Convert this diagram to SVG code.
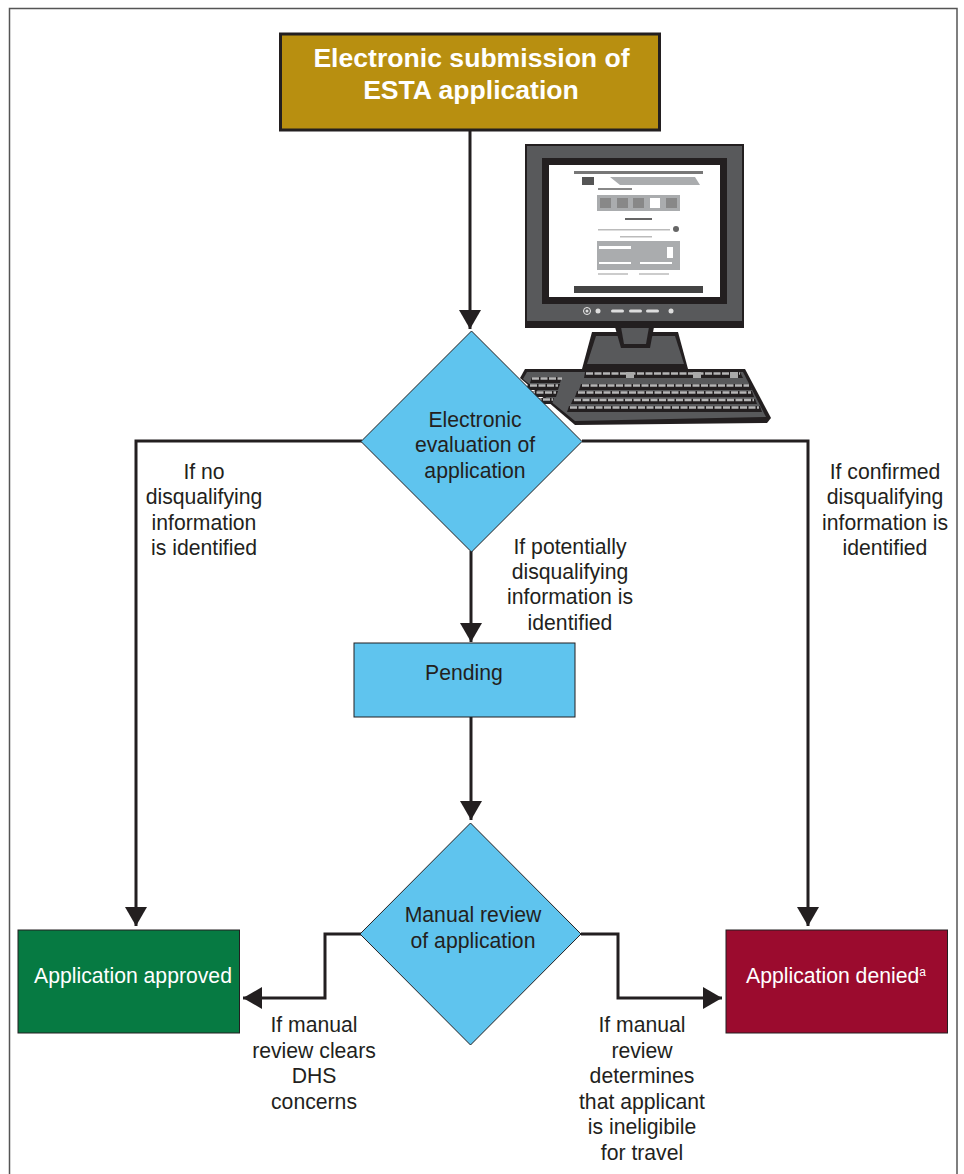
<svg xmlns="http://www.w3.org/2000/svg" width="964" height="1174" viewBox="0 0 964 1174">
<style>
text{font-family:"Liberation Sans",Arial,sans-serif;font-size:21.200px;fill:#231f20;text-anchor:middle}
.w{fill:#fff}
.t{font-size:26.600px;font-weight:bold;fill:#fff}
.l{fill:none;stroke:#231f20;stroke-width:3}
.b{fill:#5fc4ee;stroke:#231f20;stroke-width:1}
.k{fill:#231f20}
.g{fill:#58595b}
.m{fill:#aaacae}
.d{stroke:#b5b5b5;stroke-width:2.500;stroke-dasharray:7 1.500;fill:none}
</style>
<defs>
<marker id="a" markerUnits="userSpaceOnUse" markerWidth="20" markerHeight="22" refX="19" refY="11" orient="auto"><path d="M0 0L19 11L0 22Z" fill="#231f20"/></marker>
</defs>
<rect x="0" y="0" width="964" height="1174" fill="#fff"/>
<path d="M9.500 1174V8.500H957V1174" fill="none" stroke="#555" stroke-width="1.500"/>
<g id="computer">
<path class="k" d="M520 378L525 369H745L771 418L767 423L575 425Z"/>
<path class="g" d="M523 379L527 372H743L766 417L575 421Z"/>
<path class="k" d="M582 369L592 332H678L688 369Z"/>
<path class="g" d="M587 364L596 336H675L684 364Z"/>
<path class="k" d="M615 327H654L650 348H621Z"/>
<path class="g" d="M621 327H649L646 344H624Z"/>
<rect class="k" x="525" y="144" width="219" height="184"/>
<rect class="g" x="527" y="146" width="215" height="175"/>
<rect class="k" x="542" y="158" width="185" height="146"/>
<rect x="549" y="165" width="171" height="132" fill="#fff"/>
<rect x="574" y="171" width="129" height="3" fill="#777"/>
<path class="m" d="M610 177H695L700 185H620Z"/>
<rect x="582" y="177" width="12" height="8" fill="#555"/>
<rect x="598" y="188" width="34" height="2" fill="#888"/>
<rect class="m" x="597" y="195" width="83" height="16"/>
<g fill="#888"><rect x="600" y="198" width="11" height="10"/><rect x="617" y="198" width="11" height="10"/><rect x="633" y="198" width="11" height="10"/><rect x="666" y="198" width="11" height="10"/></g>
<rect x="650" y="198" width="10" height="10" fill="#fff"/>
<rect x="625" y="218" width="27" height="2" fill="#666"/>
<rect x="598" y="229" width="72" height="1.500" fill="#bbb"/>
<circle cx="676" cy="229" r="3" fill="#666"/>
<rect x="620" y="236" width="32" height="1.500" fill="#bbb"/>
<rect class="m" x="597" y="241" width="83" height="29"/>
<g fill="#fff"><rect x="599" y="246" width="32" height="3"/><rect x="599" y="262" width="32" height="2"/><rect x="640" y="262" width="32" height="2"/><rect x="667" y="247" width="6" height="11"/></g>
<g fill="#ccc"><rect x="598" y="273" width="30" height="2"/><rect x="639" y="273" width="30" height="2"/></g>
<rect x="574" y="286" width="129" height="7" fill="#444"/>
<circle cx="587" cy="311" r="3.500" fill="none" stroke="#eee" stroke-width="1"/>
<g fill="#ddd"><circle cx="587" cy="311" r="1.500"/><circle cx="598" cy="311" r="2.500"/><circle cx="671" cy="311" r="2.500"/><rect x="611" y="309.500" width="13" height="3" rx="1.500"/><rect x="629" y="309.500" width="13" height="3" rx="1.500"/><rect x="646" y="309.500" width="13" height="3" rx="1.500"/></g>
<g class="k">
<path d="M585 372H740L743 378H584Z"/>
<path d="M581 384H750L752 390H579Z"/>
<path d="M577 391H752L754 397H575Z"/>
<path d="M573 399H755L757 404H571Z"/>
<path d="M569 406H760L762 412H567Z"/>
<path d="M532 377H562L560 383H530Z"/>
<path d="M528 384H560L558 390H526Z"/>
<path d="M526 391H558L556 397H524Z"/>
<path d="M524 398H554L552 404H522Z"/>
</g>
<path class="d" d="M586 373.500H740M582 385.500H749M578 392.500H751M574 400H754M570 407.500H759M532 378.500H562M530 385.500H558M528 392.500H556M526 399.500H553"/>
<rect x="626" y="372" width="8" height="6" fill="#aaa"/><rect x="693" y="372" width="8" height="6" fill="#aaa"/><rect x="730" y="372" width="8" height="6" fill="#aaa"/>
</g>
<g id="connectors">
<path class="l" marker-end="url(#a)" d="M470 131V329"/>
<path class="l" marker-end="url(#a)" d="M362 441H136V926"/>
<path class="l" marker-end="url(#a)" d="M582 441H808V926"/>
<path class="l" marker-end="url(#a)" d="M471 551V642"/>
<path class="l" marker-end="url(#a)" d="M471 717V820"/>
<path class="l" marker-end="url(#a)" d="M361 934H325V998H243"/>
<path class="l" marker-end="url(#a)" d="M581 934H618V998H722"/>
</g>
<g id="start"><rect x="280.500" y="34" width="379" height="96" fill="#b88f10" stroke="#231f20" stroke-width="3"/>
<text class="t" x="471.500" y="67">Electronic submission of</text><text class="t" x="471" y="99">ESTA application</text></g>
<g id="evaluation"><path class="b" d="M471.500 331L582 441.500L471.500 552L361 441.500Z"/>
<text x="475" y="427">Electronic</text><text x="475" y="452">evaluation of</text><text x="475" y="478">application</text></g>
<g id="pending"><rect class="b" x="354" y="643" width="221" height="74"/><text x="464" y="680">Pending</text></g>
<g id="review"><path class="b" d="M470.500 823L581 934L470.500 1045L360 934Z"/>
<text x="473" y="922">Manual review</text><text x="473" y="948">of application</text></g>
<g id="approved"><rect x="18" y="930" width="221.500" height="103" fill="#067a42" stroke="#231f20" stroke-width="1"/><text class="w" x="133" y="983">Application approved</text></g>
<g id="denied"><rect x="726" y="930" width="221.500" height="103" fill="#9b0b2e" stroke="#231f20" stroke-width="1"/><text class="w" x="836" y="983">Application denied<tspan font-size="12" dy="-7">a</tspan></text></g>
<g id="labels">
<text x="204" y="479">If no</text><text x="204" y="504">disqualifying</text><text x="204" y="530">information</text><text x="204" y="555">is identified</text>
<text x="885" y="479">If confirmed</text><text x="885" y="504">disqualifying</text><text x="885" y="530">information is</text><text x="885" y="555">identified</text>
<text x="570" y="554">If potentially</text><text x="570" y="579">disqualifying</text><text x="570" y="604">information is</text><text x="570" y="630">identified</text>
<text x="314" y="1032">If manual</text><text x="314" y="1058">review clears</text><text x="314" y="1083">DHS</text><text x="314" y="1109">concerns</text>
<text x="642" y="1032">If manual</text><text x="642" y="1058">review</text><text x="642" y="1083">determines</text><text x="642" y="1109">that applicant</text><text x="642" y="1134">is ineligibile</text><text x="642" y="1160">for travel</text>
</g>
</svg>
